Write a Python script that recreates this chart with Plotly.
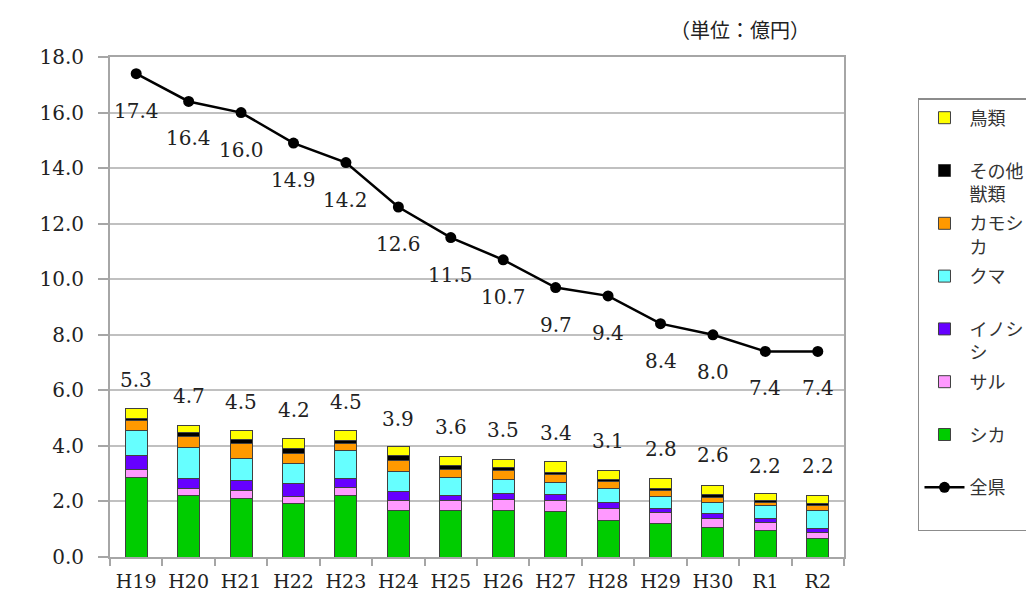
import plotly.graph_objects as go

categories = ["H19", "H20", "H21", "H22", "H23", "H24", "H25", "H26", "H27", "H28", "H29", "H30", "R1", "R2"]

shika = [2.87, 2.23, 2.12, 1.91, 2.23, 1.67, 1.67, 1.69, 1.64, 1.31, 1.22, 1.07, 0.95, 0.68]
saru = [0.29, 0.23, 0.26, 0.27, 0.28, 0.38, 0.37, 0.37, 0.41, 0.45, 0.38, 0.33, 0.31, 0.22]
inoshishi = [0.48, 0.37, 0.36, 0.48, 0.31, 0.31, 0.19, 0.22, 0.19, 0.19, 0.14, 0.15, 0.12, 0.14]
kuma = [0.90, 1.13, 0.79, 0.69, 1.00, 0.71, 0.64, 0.50, 0.46, 0.51, 0.44, 0.43, 0.46, 0.64]
kamoshika = [0.37, 0.37, 0.56, 0.38, 0.25, 0.40, 0.29, 0.33, 0.26, 0.26, 0.21, 0.17, 0.11, 0.18]
sonota = [0.08, 0.16, 0.15, 0.16, 0.14, 0.17, 0.14, 0.10, 0.10, 0.06, 0.09, 0.09, 0.08, 0.07]
chorui = [0.36, 0.24, 0.32, 0.36, 0.35, 0.33, 0.32, 0.31, 0.37, 0.35, 0.35, 0.34, 0.24, 0.27]

totals = [5.3, 4.7, 4.5, 4.2, 4.5, 3.9, 3.6, 3.5, 3.4, 3.1, 2.8, 2.6, 2.2, 2.2]
zenken = [17.4, 16.4, 16.0, 14.9, 14.2, 12.6, 11.5, 10.7, 9.7, 9.4, 8.4, 8.0, 7.4, 7.4]

y_ticks = [0, 2, 4, 6, 8, 10, 12, 14, 16, 18]

NUM_FONT = "DejaVu Serif"
JP_FONT = "Noto Sans CJK JP"
TXT = "#222222"

# (name in legend, values, color, legend rank) — bottom of stack first
series = [
    ("シカ<br>&nbsp;", shika, "#00CC00", 7),
    ("サル<br>&nbsp;", saru, "#FF99FF", 6),
    ("イノシ<br>シ", inoshishi, "#6600FF", 5),
    ("クマ<br>&nbsp;", kuma, "#66FFFF", 4),
    ("カモシ<br>カ", kamoshika, "#FF9900", 3),
    ("その他<br>獣類", sonota, "#000000", 2),
    ("鳥類<br>&nbsp;", chorui, "#FFFF00", 1),
]

fig = go.Figure()
for name, vals, color, rank in series:
    fig.add_trace(go.Bar(
        x=categories, y=vals, name=name,
        marker=dict(color=color, line=dict(color="#404040", width=1)),
        legendgroup=name, legendrank=rank,
        hoverinfo="skip",
    ))

fig.add_trace(go.Scatter(
    x=categories, y=zenken, name="全県<br>&nbsp;",
    mode="lines+markers",
    line=dict(color="#000000", width=2.5),
    marker=dict(color="#000000", size=11),
    legendgroup="全県", legendrank=8,
    hoverinfo="skip",
))

annotations = []
for c, t in zip(categories, totals):
    annotations.append(dict(
        x=c, y=t, xref="x", yref="y", text=f"{t:.1f}", showarrow=False,
        yshift=30, yanchor="middle",
        font=dict(family=NUM_FONT, size=20, color=TXT),
    ))
for c, v in zip(categories, zenken):
    annotations.append(dict(
        x=c, y=v, xref="x", yref="y", text=f"{v:.1f}", showarrow=False,
        yshift=-37, yanchor="middle",
        font=dict(family=NUM_FONT, size=20, color=TXT),
    ))
annotations.append(dict(
    x=0.956, y=1.054, xref="paper", yref="paper", text="（単位：億円）",
    showarrow=False, xanchor="right", yanchor="middle",
    font=dict(family=JP_FONT, size=20, color=TXT),
))

fig.update_layout(
    width=1026, height=598,
    margin=dict(l=110, r=182, t=57, b=41, autoexpand=False),
    paper_bgcolor="white", plot_bgcolor="white",
    barmode="stack", bargap=0.58,
    showlegend=True,
    legend=dict(
        x=1.1008, y=0.918, xanchor="left", yanchor="top",
        traceorder="grouped", tracegroupgap=3, valign="top",
        bordercolor="#8C8C8C", borderwidth=1.5, bgcolor="white",
        font=dict(family=JP_FONT, size=18, color="#333333"),
        itemwidth=40,
    ),
    annotations=annotations,
    font=dict(family=NUM_FONT, color=TXT),
)

fig.update_xaxes(
    type="category", range=[-0.5, len(categories) - 0.5], autorange=False,
    showline=True, linecolor="#A6A6A6", linewidth=2, mirror=True,
    ticks="outside", tickson="boundaries", ticklen=7, tickcolor="#A6A6A6", tickwidth=1.5,
    showgrid=False, tickangle=0, ticklabelstandoff=6,
    tickfont=dict(family=NUM_FONT, size=19, color=TXT),
)
fig.update_yaxes(
    range=[0, 18], tickvals=y_ticks, tickformat=".1f",
    showline=True, linecolor="#A6A6A6", linewidth=2, mirror=True,
    ticks="outside", ticklen=10, tickcolor="#A6A6A6", tickwidth=1.5,
    showgrid=True, gridcolor="#C0C0C0", gridwidth=2,
    zeroline=False,
    ticklabelstandoff=10,
    tickfont=dict(family=NUM_FONT, size=20, color=TXT),
)

fig.write_html("out.html")
